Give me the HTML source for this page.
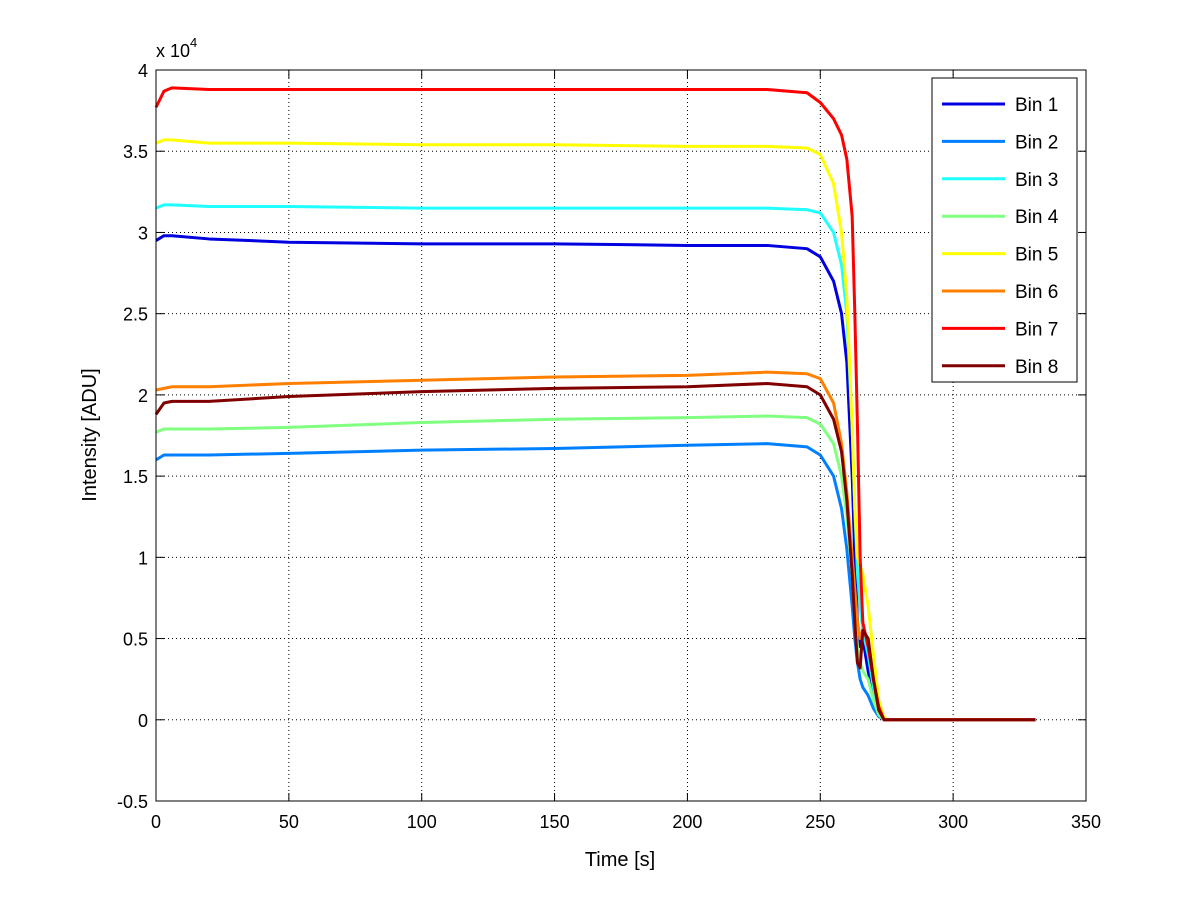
<!DOCTYPE html>
<html><head><meta charset="utf-8"><style>
body{margin:0;background:#fff}
svg text{font-family:"Liberation Sans",sans-serif;fill:#000}
</style></head><body>
<svg id="c" width="1200" height="901">
<rect width="1200" height="901" fill="#fff"/>
<g id="grid"></g><g id="series"></g><g id="axes"></g><g id="legend"></g>
<text x="156" y="57" font-size="18">x 10<tspan dy="-10" font-size="13">4</tspan></text>
<text x="620" y="866" font-size="20" text-anchor="middle">Time [s]</text>
<text transform="translate(96,435) rotate(-90)" font-size="20" text-anchor="middle">Intensity [ADU]</text>
</svg>
<script>
const times=[0,3,6,20,50,100,150,200,230,245,250,255,258,260,262,263,264,265,266,268,270,272,274,276,300,331];
const bin1=[2.95,2.98,2.98,2.96,2.94,2.93,2.93,2.92,2.92,2.9,2.85,2.7,2.5,2.2,1.5,1.0,0.6,0.45,0.5,0.3,0.15,0.04,0,0,0,0];
const bin2=[1.6,1.63,1.63,1.63,1.64,1.66,1.67,1.69,1.70,1.68,1.63,1.5,1.3,1.05,0.7,0.5,0.35,0.25,0.2,0.15,0.07,0.02,0,0,0,0];
const bin3=[3.15,3.17,3.17,3.16,3.16,3.15,3.15,3.15,3.15,3.14,3.12,3.0,2.8,2.5,1.8,1.3,0.9,0.7,0.55,0.4,0.2,0.05,0,0,0,0];
const bin4=[1.77,1.79,1.79,1.79,1.80,1.83,1.85,1.86,1.87,1.86,1.82,1.7,1.5,1.25,0.9,0.65,0.45,0.35,0.3,0.25,0.12,0.03,0,0,0,0];
const bin5=[3.55,3.57,3.57,3.55,3.55,3.54,3.54,3.53,3.53,3.52,3.48,3.3,3.0,2.6,1.8,1.3,1.0,0.95,0.9,0.7,0.4,0.12,0.01,0,0,0];
const bin6=[2.03,2.04,2.05,2.05,2.07,2.09,2.11,2.12,2.14,2.13,2.1,1.95,1.7,1.4,1.0,0.8,0.6,0.5,0.55,0.5,0.25,0.06,0,0,0,0];
const bin7=[3.77,3.87,3.89,3.88,3.88,3.88,3.88,3.88,3.88,3.86,3.8,3.7,3.6,3.45,3.1,2.5,1.8,1.0,0.6,0.45,0.25,0.08,0,0,0,0];
const bin8=[1.88,1.95,1.96,1.96,1.99,2.02,2.04,2.05,2.07,2.05,2.0,1.85,1.65,1.35,0.9,0.6,0.35,0.32,0.55,0.5,0.25,0.06,0,0,0,0];
const seriesNames=["Bin 1","Bin 2","Bin 3","Bin 4","Bin 5","Bin 6","Bin 7","Bin 8"];
const xTicks=[0,50,100,150,200,250,300,350];
const yTicks=[-0.5,0,0.5,1,1.5,2,2.5,3,3.5,4];
const colors=["#0000e0","#0080ff","#20ffff","#80ff80","#ffff00","#ff8000","#ff0000","#800000"];
const L=156,R=1086,T=70,B=801;
const xs=t=>L+(t-0)/350*(R-L);
const ys=v=>B-(v+0.5)/4.5*(B-T);
const NS="http://www.w3.org/2000/svg";
function mk(tag,parent,attrs){const e=document.createElementNS(NS,tag);for(const k in attrs)e.setAttribute(k,attrs[k]);parent.appendChild(e);return e;}
const g=document.getElementById('grid'),ax=document.getElementById('axes'),sg=document.getElementById('series'),lg=document.getElementById('legend');
xTicks.forEach(t=>{const x=xs(t);
 if(t>0&&t<350){const l=mk('line',g,{x1:x,x2:x,y1:T,y2:B,stroke:'#000','stroke-width':1,'stroke-dasharray':'1,3'});}
 mk('line',ax,{x1:x,x2:x,y1:B,y2:B-8,stroke:'#000'});mk('line',ax,{x1:x,x2:x,y1:T,y2:T+8,stroke:'#000'});
 const tx=mk('text',ax,{x:x,y:B+27,'font-size':18,'text-anchor':'middle'});tx.textContent=t;
 });
yTicks.forEach(v=>{const y=ys(v);
 if(v>-0.5&&v<4){const l=mk('line',g,{x1:L,x2:R,y1:y,y2:y,stroke:'#000','stroke-width':1,'stroke-dasharray':'1,3'});}
 mk('line',ax,{x1:L,x2:L+8,y1:y,y2:y,stroke:'#000'});mk('line',ax,{x1:R,x2:R-8,y1:y,y2:y,stroke:'#000'});
 const tx=mk('text',ax,{x:L-8,y:y+7,'font-size':18,'text-anchor':'end'});tx.textContent=v;
 });
const fr=mk('rect',ax,{x:L,y:T,width:R-L,height:B-T,fill:'none',stroke:'#000'});

const data=[bin1,bin2,bin3,bin4,bin5,bin6,bin7,bin8];
data.forEach((arr,i)=>{const p=mk('polyline',sg,{points:arr.map((v,j)=>xs(times[j])+','+ys(v)).join(' '),fill:'none',stroke:colors[i],'stroke-width':3,'stroke-linejoin':'round'});
 });
const lb=mk('rect',lg,{x:932,y:78,width:145,height:304,fill:'#fff',stroke:'#000'});

seriesNames.forEach((n,i)=>{const y=104+i*37.4;
 const gr=mk('g',lg,{});
 mk('line',gr,{x1:942,x2:1005,y1:y,y2:y,stroke:colors[i],'stroke-width':3});
 const t=mk('text',gr,{x:1015,y:y+7,'font-size':19});t.textContent=n;});
</script>
</body></html>
